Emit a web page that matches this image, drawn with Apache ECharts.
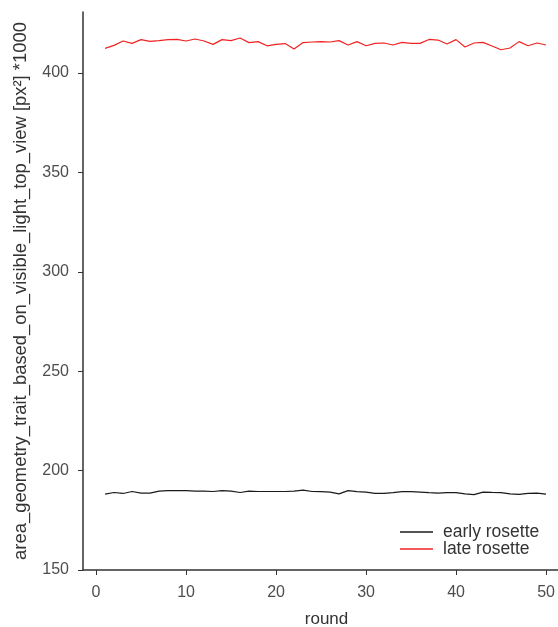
<!DOCTYPE html>
<html>
<head>
<meta charset="utf-8">
<script src="https://cdn.jsdelivr.net/npm/echarts@6/dist/echarts.min.js"></script>
<style>html,body{margin:0;padding:0;background:#fff;}#c{width:558px;height:627px;}</style>
</head>
<body>
<div id="c"></div>
<script>
var rounds = [1,2,3,4,5,6,7,8,9,10,11,12,13,14,15,16,17,18,19,20,21,22,23,24,25,26,27,28,29,30,31,32,33,34,35,36,37,38,39,40,41,42,43,44,45,46,47,48,49,50];
var earlyRosette = [188.2,189.0,188.5,189.5,188.7,188.7,189.7,189.9,189.9,189.9,189.7,189.7,189.5,189.9,189.7,189.0,189.7,189.5,189.5,189.5,189.5,189.7,190.2,189.5,189.4,189.2,188.3,189.9,189.4,189.2,188.5,188.5,188.9,189.4,189.4,189.2,188.9,188.7,188.9,188.9,188.3,187.9,189.2,189.0,188.9,188.3,188.0,188.5,188.7,188.2];
var lateRosette = [412.4,413.9,416.1,414.9,416.8,415.9,416.3,416.8,416.9,416.1,417.1,416.1,414.4,416.8,416.3,417.6,415.3,415.8,413.7,414.4,414.8,412.1,415.3,415.6,415.8,415.6,416.3,414.1,415.8,413.7,414.9,415.1,414.1,415.4,414.9,414.9,416.9,416.6,414.6,416.8,413.1,415.1,415.4,413.6,411.7,412.6,415.8,413.7,415.1,414.1];
var xTicks = [0,10,20,30,40,50];
var yTicks = [150,200,250,300,350,400];

function pairs(vals){ return rounds.map(function(r,i){ return [r, vals[i]]; }); }

var font = 'Liberation Sans, Arial, sans-serif';
var chart = echarts.init(document.getElementById('c'), null, {renderer:'canvas'});
chart.setOption({
  animation: false,
  backgroundColor: '#fff',
  grid: {left: 83, right: 0, top: 12, bottom: 57, containLabel: false, outerBoundsMode: 'none'},
  xAxis: {
    type: 'value', min: -1.45, max: 51.33,
    name: 'round', nameLocation: 'middle', nameGap: 41,
    nameTextStyle: {fontFamily: font, fontSize: 17, color: '#333', padding: [0,0,0,12]},
    axisLine: {show: true, onZero: false, lineStyle: {color: '#333', width: 1.5}},
    axisTick: {show: true, length: 5, customValues: xTicks, lineStyle: {color: '#333', width: 1}},
    axisLabel: {customValues: xTicks, margin: 15, fontFamily: font, fontSize: 16, color: '#4d4d4d'},
    splitLine: {show: false}
  },
  yAxis: {
    type: 'value', min: 150, max: 430.7,
    name: 'area_geometry_trait_based_on_visible_light_top_view [px²] *1000',
    nameLocation: 'middle', nameGap: 53,
    nameTextStyle: {fontFamily: font, fontSize: 18.4, color: '#333'},
    axisLine: {show: true, onZero: false, lineStyle: {color: '#333', width: 1.5}},
    axisTick: {show: true, length: 5, customValues: yTicks, lineStyle: {color: '#333', width: 1}},
    axisLabel: {customValues: yTicks, margin: 14, fontFamily: font, fontSize: 16, color: '#4d4d4d'},
    splitLine: {show: false}
  },
  legend: {
    orient: 'vertical', left: 395, top: 518,
    icon: 'rect', itemWidth: 33, itemHeight: 1.5, itemGap: -1,
    textStyle: {fontFamily: font, fontSize: 17.5, lineHeight: 15, color: '#333', padding: [0,0,0,5]},
    data: ['early rosette', 'late rosette']
  },
  series: [
    {name: 'early rosette', type: 'line', data: pairs(earlyRosette), symbol: 'none', lineStyle: {color: '#1a1a1a', width: 1.2}, itemStyle: {color: '#1a1a1a'}},
    {name: 'late rosette', type: 'line', data: pairs(lateRosette), symbol: 'none', lineStyle: {color: '#f22222', width: 1.2}, itemStyle: {color: '#f22222'}}
  ]
});
</script>
</body>
</html>
